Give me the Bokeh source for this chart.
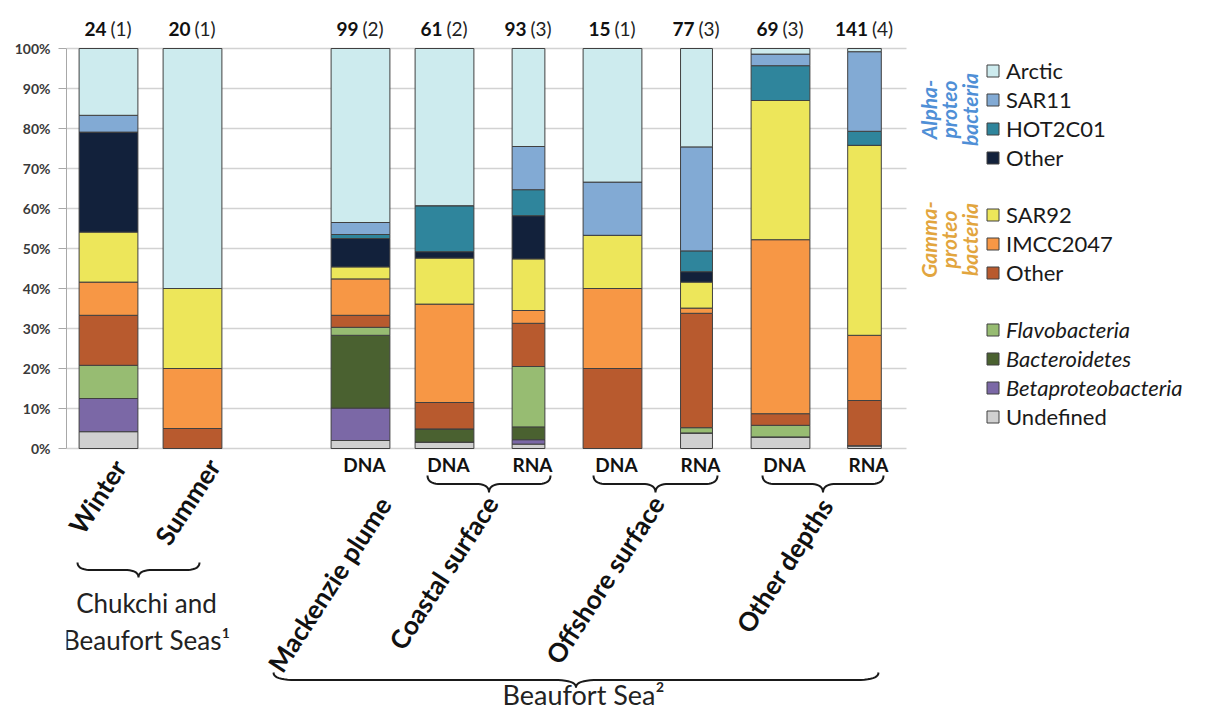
import math
from bokeh.plotting import figure
from bokeh.models import (ColumnDataSource, Range1d, FixedTicker, PrintfTickFormatter,
                          Legend, LegendItem, LinearAxis, Label)
from bokeh.core.properties import value
from bokeh.embed import file_html
from bokeh.resources import INLINE

# ------------------------------------------------------------------ data
bar_names = ["Winter", "Summer", "Mackenzie plume DNA", "Coastal surface DNA",
             "Coastal surface RNA", "Offshore surface DNA", "Offshore surface RNA",
             "Other depths DNA", "Other depths RNA"]
nucleic = ["", "", "DNA", "DNA", "RNA", "DNA", "RNA", "DNA", "RNA"]
n_sequences = [24, 20, 99, 61, 93, 15, 77, 69, 141]
n_samples = [1, 1, 2, 2, 3, 1, 3, 3, 4]

# percentages, per bar (bottom to top of stack)
undefined     = [4.2, 0.0, 2.0, 1.6, 1.1, 0.0, 3.9, 2.9, 0.7]
betaproteo    = [8.3, 0.0, 8.1, 0.0, 1.1, 0.0, 0.0, 0.0, 0.0]
bacteroidetes = [0.0, 0.0, 18.2, 3.3, 3.2, 0.0, 0.0, 0.0, 0.0]
flavobacteria = [8.3, 0.0, 2.0, 0.0, 15.1, 0.0, 1.3, 2.9, 0.0]
gamma_other   = [12.5, 5.0, 3.0, 6.6, 10.8, 20.0, 28.6, 2.9, 11.3]
imcc2047      = [8.3, 15.0, 9.1, 24.6, 3.2, 20.0, 1.3, 43.5, 16.3]
sar92         = [12.5, 20.0, 3.0, 11.5, 12.9, 13.3, 6.5, 34.8, 47.5]
alpha_other   = [25.0, 0.0, 7.1, 1.6, 10.8, 0.0, 2.6, 0.0, 0.0]
hot2c01       = [0.0, 0.0, 1.0, 11.5, 6.5, 0.0, 5.2, 8.7, 3.5]
sar11         = [4.2, 0.0, 3.0, 0.0, 10.8, 13.3, 26.0, 2.9, 19.9]
arctic        = [16.7, 60.0, 43.5, 39.3, 24.5, 33.4, 24.6, 1.4, 0.8]

y_ticks = [0, 10, 20, 30, 40, 50, 60, 70, 80, 90, 100]

season_labels = ["Winter", "Summer"]
group_labels = ["Mackenzie plume", "Coastal surface", "Offshore surface", "Other depths"]
region_labels = ["Chukchi and", "Beaufort Seas\u00b9", "Beaufort Sea\u00b2"]

alpha_legend = ["Arctic", "SAR11", "HOT2C01", "Other"]
gamma_legend = ["SAR92", "IMCC2047", "Other"]
other_legend = ["Flavobacteria", "Bacteroidetes", "Betaproteobacteria"]
undef_legend = ["Undefined"]
alpha_title = ["Alpha-", "proteo", "bacteria"]
gamma_title = ["Gamma-", "proteo", "bacteria"]

# ------------------------------------------------------------------ layout / style
FONT = "Lato"
W, H = 1196, 712
BORDER_L = 66
PX_SLOT = 84.0
PX_PCT = 4.0
PAGE_X0 = BORDER_L              # picture x of the frame's left edge
PAGE_Y100 = 48                  # picture y of the 100 % line
X_START = -0.5
X_END = X_START + (W - BORDER_L) / PX_SLOT
Y_TOP = 100 + PAGE_Y100 / PX_PCT
Y_BOTTOM = Y_TOP - H / PX_PCT
BASE_FIX = 0.42                 # baseline correction (fraction of font size)


def dx(page_x):
    return X_START + (page_x - PAGE_X0) / PX_SLOT


def dy(page_y):
    return 100 - (page_y - PAGE_Y100) / PX_PCT


def dyb(baseline_y, fs):
    return dy(baseline_y - BASE_FIX * fs)


slot = [0, 1, 3, 4, 5, 6, 7, 8, 9]
bar_w = [0.70, 0.70, 0.70, 0.70, 0.39, 0.70, 0.38, 0.70, 0.40]

stack_keys = ["undefined", "betaproteo", "bacteroidetes", "flavobacteria", "gamma_other",
              "imcc2047", "sar92", "alpha_other", "hot2c01", "sar11", "arctic"]
stack_vals = [undefined, betaproteo, bacteroidetes, flavobacteria, gamma_other,
              imcc2047, sar92, alpha_other, hot2c01, sar11, arctic]
colors = ["#D0D0D0", "#7B68A6", "#4A6130", "#97BC72", "#B85A2E",
          "#F79745", "#EDE65A", "#12213B", "#2F859C", "#82AAD4", "#CDEBEE"]

p = figure(width=W, height=H, x_range=Range1d(X_START, X_END), y_range=Range1d(Y_BOTTOM, Y_TOP),
           output_backend="svg", toolbar_location=None, x_axis_type=None, y_axis_type=None,
           min_border_left=BORDER_L, min_border_right=0, min_border_top=0, min_border_bottom=0)
p.outline_line_color = None
p.background_fill_color = "white"

# y axis
yaxis = LinearAxis(ticker=FixedTicker(ticks=y_ticks), formatter=PrintfTickFormatter(format="%d%%"),
                   bounds=(0, 100))
yaxis.axis_line_color = "#a8a8a8"
yaxis.major_tick_line_color = "#a8a8a8"
yaxis.major_tick_out = 8
yaxis.major_tick_in = 0
yaxis.minor_tick_out = 0
yaxis.minor_tick_in = 0
yaxis.major_label_standoff = 8
yaxis.major_label_text_font = FONT
yaxis.major_label_text_font_size = "14px"
yaxis.major_label_text_font_style = "bold"
yaxis.major_label_text_color = "#3a3a3a"
p.add_layout(yaxis, "left")

# gridlines (only across the bar area)
p.segment(x0=[X_START] * len(y_ticks), x1=[9.5] * len(y_ticks), y0=y_ticks, y1=y_ticks,
          line_color="#d2d2d2", line_width=1.5)

# bars
data = {"x": slot, "w": bar_w}
for k, v in zip(stack_keys, stack_vals):
    data[k] = v
src = ColumnDataSource(data)
rends = p.vbar_stack(stack_keys, x="x", width="w", source=src, fill_color=colors,
                     line_color="#404040", line_width=1)
R = dict(zip(stack_keys, rends))

# top labels: bold sequence count + (number of samples)
FS_TOP = 19
num_x, par_x, num_t, par_t = [], [], [], []
for s, n, m in zip(slot, n_sequences, n_samples):
    wn = len(str(n)) * 0.58 * FS_TOP
    wp = (0.58 + 0.58 * len(str(m))) * FS_TOP
    gap = 4
    left = -(wn + gap + wp) / 2
    num_x.append(s + (left + wn) / PX_SLOT)
    par_x.append(s + (left + wn + gap) / PX_SLOT)
    num_t.append(str(n))
    par_t.append("(%d)" % m)
top_y = dyb(36, FS_TOP)
p.text(x=num_x, y=[top_y] * len(slot), text=num_t, text_font=value(FONT), text_font_size="19px",
       text_font_style="bold", text_align="right", text_baseline="alphabetic", text_color="#111111")
p.text(x=par_x, y=[top_y] * len(slot), text=par_t, text_font=value(FONT), text_font_size="19px",
       text_align="left", text_baseline="alphabetic", text_color="#222222")

# DNA / RNA labels
na_x = [s + 4 / PX_SLOT for s, t in zip(slot, nucleic) if t]
na_t = [t for t in nucleic if t]
p.text(x=na_x, y=[dyb(472, 19)] * len(na_t), text=na_t, text_font=value(FONT), text_font_size="19px",
       text_font_style="bold", text_align="center", text_baseline="alphabetic", text_color="#111111")

# rotated category labels (anchor near the right end, in picture px)
ANG = 57
rot_anchor_px = [(119, 462), (213, 461), (384, 499), (491, 498), (657, 498), (826, 500)]
rot_text = season_labels + group_labels
p.text(x=[dx(a) for a, b in rot_anchor_px], y=[dy(b) for a, b in rot_anchor_px], text=rot_text,
       angle=ANG, angle_units="deg", text_font=value(FONT), text_font_size="26px",
       text_font_style="bold", text_align="right", text_baseline="alphabetic", text_color="#111111")

# region labels
for txt, (cx, by_, fs) in zip(region_labels, [(146, 613, 26), (146, 650, 26), (583, 705, 27)]):
    p.add_layout(Label(x=dx(cx), y=dyb(by_, fs), text=txt, text_font=FONT,
                       text_font_size="%dpx" % fs, text_align="center",
                       text_baseline="alphabetic", text_color="#222222"))


# braces
def brace(xl, xr, yt, d, r):
    xm = (xl + xr) / 2.0
    ym = yt + d / 2.0
    pts = []

    def quad(p0, c, p1, n=10):
        out = []
        for i in range(n + 1):
            t = i / n
            x = (1 - t) ** 2 * p0[0] + 2 * (1 - t) * t * c[0] + t ** 2 * p1[0]
            y = (1 - t) ** 2 * p0[1] + 2 * (1 - t) * t * c[1] + t ** 2 * p1[1]
            out.append((x, y))
        return out
    pts += quad((xl, yt), (xl, ym), (xl + r, ym))
    pts += quad((xm - r, ym), (xm, ym), (xm, yt + d))
    pts += quad((xm, yt + d), (xm, ym), (xm + r, ym))
    pts += quad((xr - r, ym), (xr, ym), (xr, yt))
    return [dx(a) for a, b in pts], [dy(b) for a, b in pts]


braces_px = [(77, 199, 562, 15, 14), (427, 550, 475, 17, 13), (593, 717, 475, 17, 13),
             (762, 883, 475, 17, 13), (273, 878, 672, 15, 22)]
bx, by = [], []
for b in braces_px:
    xs, ys = brace(*b)
    bx.append(xs)
    by.append(ys)
p.multi_line(xs=bx, ys=by, line_color="#1a1a1a", line_width=2)

# legend group titles (rotated)
title_x = [928, 948, 969]
p.text(x=[dx(v) for v in title_x], y=[dy(109)] * 3, text=alpha_title, angle=90, angle_units="deg",
       text_font=value(FONT), text_font_size="21px", text_font_style="bold italic",
       text_align="center", text_baseline="middle", text_color="#4F8FD6")
p.text(x=[dx(v) for v in title_x], y=[dy(239)] * 3, text=gamma_title, angle=90, angle_units="deg",
       text_font=value(FONT), text_font_size="21px", text_font_style="bold italic",
       text_align="center", text_baseline="middle", text_color="#E2A53E")


# legends
def make_legend(labels, keys, last_center_py, italic=False):
    items = [LegendItem(label=value(l), renderers=[R[k]]) for l, k in zip(labels, keys)]
    row_h = 27
    bottom_py = last_center_py + row_h / 2.0
    leg = Legend(items=items, location=(985 - PAGE_X0, H - bottom_py),
                 orientation="vertical", glyph_width=15, glyph_height=15, label_height=26,
                 label_standoff=6, spacing=2, padding=0, margin=0,
                 background_fill_alpha=0, border_line_alpha=0,
                 label_text_font=FONT, label_text_font_size="22px",
                 label_text_font_style="italic" if italic else "normal",
                 label_text_color="#1a1a1a", label_text_baseline="middle")
    p.add_layout(leg)


make_legend(alpha_legend, ["arctic", "sar11", "hot2c01", "alpha_other"], 157)
make_legend(gamma_legend, ["sar92", "imcc2047", "gamma_other"], 272)
make_legend(other_legend, ["flavobacteria", "bacteroidetes", "betaproteo"], 387, italic=True)
make_legend(undef_legend, ["undefined"], 416)

open("out.html", "w").write(file_html(p, INLINE))
